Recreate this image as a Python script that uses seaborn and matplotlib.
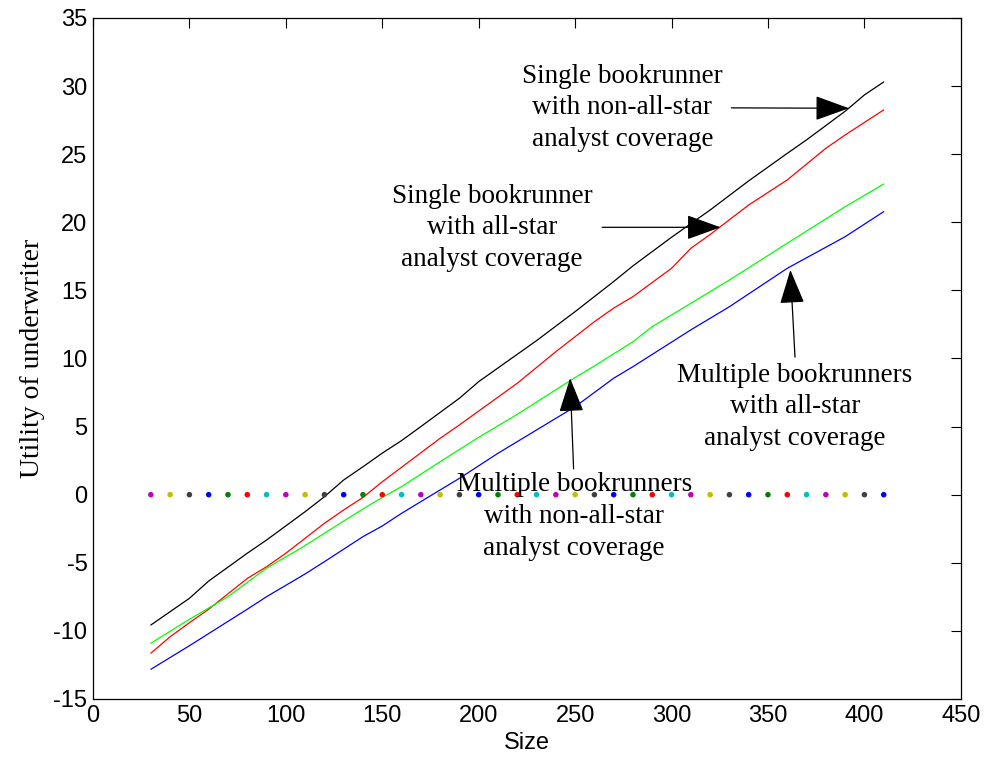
import matplotlib
matplotlib.use("Agg")
import matplotlib.pyplot as plt
import seaborn as sns
import pandas as pd
import numpy as np

# ---- data ----
single_nonstar_x = [30, 50, 60, 80, 90, 110, 120, 130, 140, 150, 160, 170, 190, 200, 230, 250, 270, 280, 300, 320, 340, 360, 370, 390, 400, 410]
single_nonstar_y = [-9.57, -7.61, -6.34, -4.30, -3.33, -1.25, -0.15, 1.08, 2.05, 3.05, 3.97, 5.0, 7.08, 8.30, 11.31, 13.44, 15.65, 16.8, 18.9, 20.9, 23.04, 25.06, 26.05, 28.15, 29.35, 30.3]

single_star_x = [30, 40, 50, 60, 80, 90, 100, 120, 130, 140, 150, 160, 180, 190, 220, 240, 250, 260, 270, 280, 300, 310, 320, 340, 360, 380, 390, 410]
single_star_y = [-11.64, -10.43, -9.4, -8.41, -6.15, -5.29, -4.30, -2.1, -1.12, -0.2, 0.95, 2.01, 4.14, 5.12, 8.18, 10.5, 11.6, 12.7, 13.7, 14.54, 16.62, 18.09, 19.1, 21.27, 23.11, 25.43, 26.41, 28.25]

multi_star_x = [30, 50, 80, 90, 110, 120, 140, 150, 160, 170, 190, 210, 230, 250, 270, 280, 310, 330, 360, 390, 410]
multi_star_y = [-12.82, -11.09, -8.41, -7.49, -5.82, -4.92, -3.08, -2.3, -1.37, -0.51, 1.2, 3.04, 4.75, 6.46, 8.55, 9.4, 12.1, 13.8, 16.62, 18.94, 20.78]

multi_nonstar_x = [30, 50, 70, 90, 110, 120, 140, 150, 160, 180, 200, 220, 250, 260, 280, 290, 310, 330, 360, 390, 410]
multi_nonstar_y = [-10.91, -9.15, -7.49, -5.40, -3.74, -2.83, -1.05, -0.2, 0.59, 2.42, 4.21, 5.9, 8.6, 9.45, 11.23, 12.34, 14.05, 15.76, 18.46, 21.14, 22.81]

zero_x = list(range(30, 411, 10))
zero_y = [0.0] * len(zero_x)

series_names = ["single_nonstar", "single_star", "multi_nonstar", "multi_star"]

ann_texts = [
    "Single bookrunner\nwith non-all-star\nanalyst coverage",
    "Single bookrunner\nwith all-star\nanalyst coverage",
    "Multiple bookrunners\nwith all-star\nanalyst coverage",
    "Multiple bookrunners\nwith non-all-star\nanalyst coverage",
]

x_ticks = list(range(0, 451, 50))
y_ticks = list(range(-15, 36, 5))

# ---- styling ----
sns.set_theme(style="white")
plt.rcParams["font.family"] = ["Liberation Sans", "DejaVu Sans"]

line_palette = {
    "single_nonstar": (0, 0, 0),
    "single_star": (1, 0, 0),
    "multi_nonstar": (0, 1, 0),
    "multi_star": (0, 0, 1),
}
matlab_cycle = ["b", "g", "r", "c", "m", "y", "k"]
matlab_rgb = {
    "b": (0, 0, 1), "g": (0, 0.5, 0), "r": (1, 0, 0), "c": (0, 0.75, 0.75),
    "m": (0.75, 0, 0.75), "y": (0.75, 0.75, 0), "k": (0.25, 0.25, 0.25),
}

df = pd.concat([
    pd.DataFrame({"Size": single_nonstar_x, "U": single_nonstar_y, "s": "single_nonstar"}),
    pd.DataFrame({"Size": single_star_x, "U": single_star_y, "s": "single_star"}),
    pd.DataFrame({"Size": multi_nonstar_x, "U": multi_nonstar_y, "s": "multi_nonstar"}),
    pd.DataFrame({"Size": multi_star_x, "U": multi_star_y, "s": "multi_star"}),
], ignore_index=True)

dots = pd.DataFrame({"Size": zero_x, "U": zero_y})
dots["col"] = [matlab_cycle[(x // 10 + 1) % 7] for x in zero_x]

fig = plt.figure(figsize=(9.87, 7.71), dpi=100)
ax = fig.add_axes([0.0942, 0.0934, 0.9795 - 0.0942 - 0.006, 0.9767 - 0.0934])

sns.lineplot(data=df, x="Size", y="U", hue="s", palette=line_palette, sort=True,
             estimator=None, legend=False, linewidth=0.9, ax=ax)
sns.scatterplot(data=dots, x="Size", y="U", hue="col", palette=matlab_rgb,
                legend=False, s=16, linewidth=0, ax=ax, zorder=3)

ax.set_xlim(0, 450)
ax.set_ylim(-15, 35)
ax.set_xticks(x_ticks)
ax.set_yticks(y_ticks)
ax.set_xticklabels([str(v) for v in x_ticks])
ax.set_yticklabels([str(v) for v in y_ticks])
ax.tick_params(direction="in", length=7, width=0.8, top=True, right=True,
               labelsize=17, colors="black", pad=4)
for sp in ax.spines.values():
    sp.set_visible(True)
    sp.set_color("black")
    sp.set_linewidth(0.9)

ax.set_xlabel("Size", fontsize=17, color="black", labelpad=4)
ax.set_ylabel("Utility of underwriter", fontsize=20, color="black",
              family=["Liberation Serif", "DejaVu Serif"], labelpad=6)

# annotation text positions (data coords) and arrow tail/tip
text_pos = [(274.5, 28.4), (207.0, 19.6), (364.0, 6.45), (249.5, -1.6)]
arrow_tail = [(331.0, 28.40), (264.0, 19.63), (364.0, 10.1), (249.2, 1.9)]
arrow_tip = [(392.0, 28.37), (325.4, 19.63), (361.6, 16.5), (247.4, 8.55)]

for txt, tp, tail, tip in zip(ann_texts, text_pos, arrow_tail, arrow_tip):
    ax.text(tp[0], tp[1], txt, ha="center", va="center", fontsize=19.5,
            family=["Liberation Serif", "DejaVu Serif"], linespacing=1.35,
            color="black", zorder=4)
    ax.annotate("", xy=tip, xytext=tail,
                arrowprops=dict(arrowstyle="-|>,head_length=1.8,head_width=0.65",
                                color="black", lw=0.9, shrinkA=0, shrinkB=0),
                zorder=5)

fig.savefig("out.png", dpi=100)
